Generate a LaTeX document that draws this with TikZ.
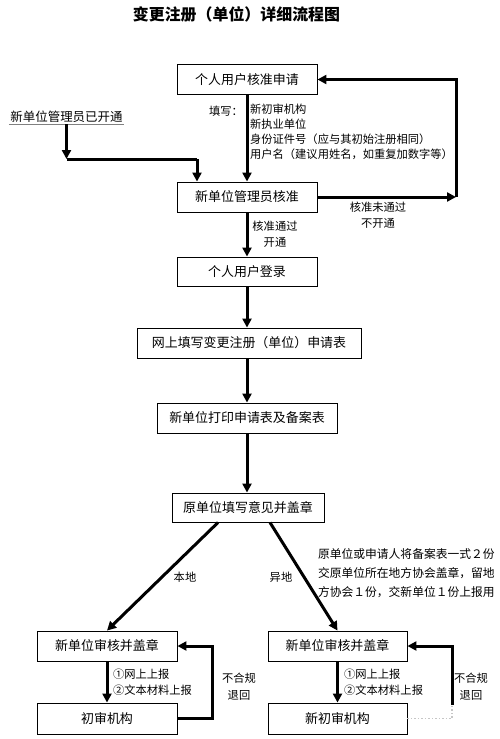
\documentclass[tikz,border=0pt]{standalone}
\usepackage{fontspec}
\setmainfont{Noto Sans CJK SC}
\usetikzlibrary{arrows.meta}
\tikzset{
  box/.style={draw, line width=0.9bp, inner sep=0pt, font=\fontsize{13}{13}\selectfont},
  arr/.style={line width=3bp, -{Triangle[length=9bp,width=9bp]}},
  thickline/.style={line width=3bp},
  lbl/.style={inner sep=0pt, font=\fontsize{11.3}{15}\selectfont, align=left},
  clbl/.style={inner sep=0pt, font=\fontsize{11.3}{16}\selectfont, align=center},
}
\begin{document}
\begin{tikzpicture}[x=1bp, y=-1bp]
\useasboundingbox (0,0) rectangle (500,739);
% title
\node[inner sep=0pt, font=\fontsize{16}{16}\selectfont\bfseries] (title) at (236.5,14) {变更注册（单位）详细流程图};
% boxes
\node[box, minimum width=140bp, minimum height=30bp] (b1) at (247,79.5) {个人用户核准申请};
\node[box, minimum width=140bp, minimum height=30bp] (b2) at (247,197) {新单位管理员核准};
\node[box, minimum width=140bp, minimum height=29bp] (b3) at (247,271.5) {个人用户登录};
\node[box, minimum width=224bp, minimum height=30bp] (b4) at (249,343) {网上填写变更注册（单位）申请表};
\node[box, minimum width=180bp, minimum height=30bp] (b5) at (247,418) {新单位打印申请表及备案表};
\node[box, minimum width=152bp, minimum height=29bp] (b6) at (248,507.5) {原单位填写意见并盖章};
\node[box, minimum width=140bp, minimum height=30bp] (b7) at (107,646) {新单位审核并盖章};
\node[box, minimum width=140bp, minimum height=31bp] (b8) at (107,718.5) {初审机构};
\node[box, minimum width=139bp, minimum height=30bp] (b9) at (337.5,646) {新单位审核并盖章};
\node[box, minimum width=139bp, minimum height=31bp] (b10) at (337.5,718.5) {新初审机构};
% source text
\node[inner sep=1.5pt, font=\fontsize{12.5}{13}\selectfont] (src) at (66.5,117) {新单位管理员已开通};
\draw[line width=0.6bp, gray] (src.south west) -- (src.south east);
\coordinate (j1) at (66.5,159);
\coordinate (j2) at (197,159);
\draw[arr] (src.south) -- (j1);
\draw[thickline] (j1) -- (j2);
\draw[arr] (j2) -- (j2 |- b2.north);
% main chain
\draw[arr] (b1.south) -- (b2.north);
\draw[arr] (b2.south) -- (b3.north);
\draw[arr] (b3.south) -- (b3.south |- b4.north);
\draw[arr] (b4.south -| b5.north) -- (b5.north);
\draw[arr] (b5.south) -- (b5.south |- b6.north);
% labels on first arrow
\node[lbl, anchor=east] (fill) at (243,111) {填写：};
\node[lbl, anchor=north west] (fields) at (250,103.5) {新初审机构\\新执业单位\\身份证件号（应与其初始注册相同）\\用户名（建议用姓名，如重复加数字等）};
% loop back to b1
\coordinate (r1) at (456,197);
\draw[arr] (b2.east) -- (r1);
\draw[arr] (r1) |- (b1.east);
\node[clbl] (fail) at (378,215) {核准未通过\\不开通};
\node[clbl] (pass) at (275,234.5) {核准通过\\开通};
% split
\coordinate (dl) at (218,522.5);
\coordinate (dr) at (270,522.5);
\draw[arr] (dl) -- (b7.north);
\draw[arr] (dr) -- (b9.north);
\node[clbl] (local) at (185,577) {本地};
\node[clbl] (remote) at (281,577) {异地};
\node[inner sep=0pt, anchor=north west, align=left, font=\fontsize{11.8}{19}\selectfont] (note) at (318,548) {原单位或申请人将备案表一式２份\\交原单位所在地方协会盖章，留地\\方协会１份，交新单位１份上报用};
% bottom left
\draw[arr] (b7.south) -- (b8.north);
\node[lbl, anchor=north west, font=\fontsize{11.3}{16}\selectfont] (rep1) at (113,669) {①网上上报\\②文本材料上报};
\coordinate (l1) at (212,646);
\draw[arr] (b8.east) -| (l1) -- (b7.east);
\node[clbl, font=\fontsize{11.3}{17}\selectfont] (ret1) at (239,687) {不合规\\退回};
% bottom right
\draw[arr] (b9.south) -- (b10.north);
\node[lbl, anchor=north west, font=\fontsize{11.3}{16}\selectfont] (rep2) at (344,669) {①网上上报\\②文本材料上报};
\coordinate (l2) at (452,705);
\draw[gray!45, dotted, line width=1.5bp] (b10.east) -| (l2);
\draw[arr] (l2) |- (b9.east);
\node[clbl, font=\fontsize{11.3}{17}\selectfont] (ret2) at (471,687) {不合规\\退回};
\end{tikzpicture}
\end{document}
